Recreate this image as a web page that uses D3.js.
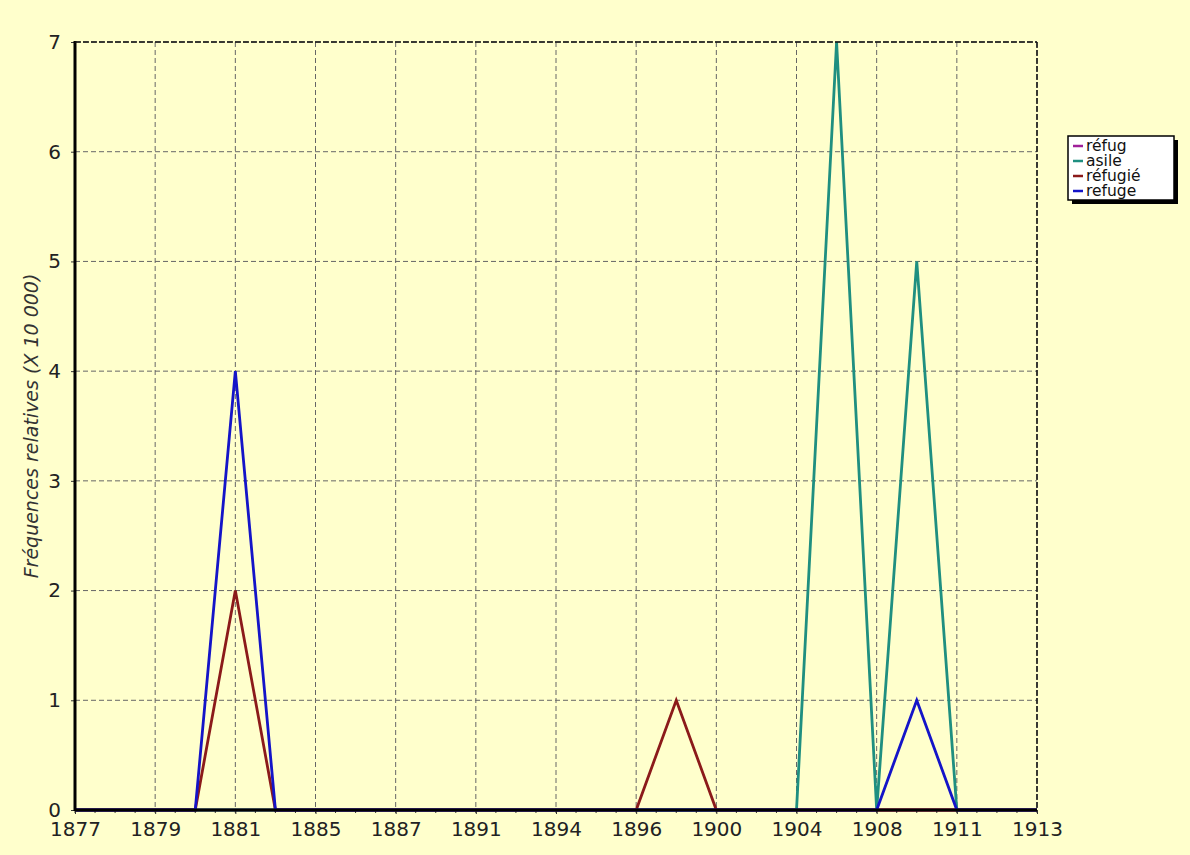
<!DOCTYPE html>
<html>
<head>
<meta charset="utf-8">
<script src="https://cdn.jsdelivr.net/npm/d3@7"></script>
<style>
  body { margin: 0; background: #ffffcc; }
  svg { display: block; font-family: "DejaVu Sans", sans-serif; }
</style>
</head>
<body>
<script>
// years on the x axis (only every other one gets a label)
var years = ["1877", "1878", "1879", "1880", "1881", "1883", "1885", "1886", "1887", "1889",
             "1891", "1893", "1894", "1895", "1896", "1898", "1900", "1902", "1904", "1906",
             "1908", "1910", "1911", "1912", "1913"];
var seriesNames = ["réfug", "asile", "réfugié", "refuge"];
var refugValues   = [0,0,0,0,0,0,0,0,0,0,0,0,0,0,0,0,0,0,0,0,0,0,0,0,0];
var asileValues   = [0,0,0,0,0,0,0,0,0,0,0,0,0,0,0,0,0,0,0,7,0,5,0,0,0];
var refugieValues = [0,0,0,0,2,0,0,0,0,0,0,0,0,0,0,1,0,0,0,0,0,0,0,0,0];
var refugeValues  = [0,0,0,0,4,0,0,0,0,0,0,0,0,0,0,0,0,0,0,0,0,1,0,0,0];
var yTicks = [0, 1, 2, 3, 4, 5, 6, 7];
var yTitle = "Fréquences relatives (X 10 000)";

var colors = ["#a0209a", "#1f8f80", "#8b1a1a", "#1414c8"];
var allSeries = [refugValues, asileValues, refugieValues, refugeValues];

var w = 1190, h = 855,
    pLeft = 75, pRight = 1037, pTop = 42, pBottom = 810;

var svg = d3.select("body").append("svg")
  .attr("width", w)
  .attr("height", h);

svg.append("rect").attr("width", w).attr("height", h).attr("fill", "#ffffcc");

var x = d3.scalePoint().domain(years).range([pLeft, pRight]);
var y = d3.scaleLinear().domain([0, 7]).range([pBottom, pTop]);

// dashed grid
var grid = svg.append("g").attr("class", "grid");
grid.selectAll("line.gx")
  .data(years.filter(function(d, i) { return i % 2 == 0; }))
  .enter().append("line")
    .attr("x1", function(d) { return x(d); })
    .attr("x2", function(d) { return x(d); })
    .attr("y1", pTop).attr("y2", pBottom)
    .attr("stroke", "#666")
    .attr("stroke-width", 1)
    .attr("stroke-dasharray", "5,3");
grid.selectAll("line.gy")
  .data(yTicks.filter(function(d) { return d > 0; }))
  .enter().append("line")
    .attr("x1", pLeft).attr("x2", pRight)
    .attr("y1", function(d) { return y(d); })
    .attr("y2", function(d) { return y(d); })
    .attr("stroke", "#666")
    .attr("stroke-width", 1)
    .attr("stroke-dasharray", "5,3");

// series lines, drawn in legend order
var line = d3.line()
  .x(function(d, i) { return x(years[i]); })
  .y(function(d) { return y(d); });

svg.selectAll("path.serie")
  .data(allSeries)
  .enter().append("path")
    .attr("class", "serie")
    .attr("d", line)
    .attr("fill", "none")
    .attr("stroke", function(d, i) { return colors[i]; })
    .attr("stroke-width", 2.8)
    .attr("stroke-linejoin", "miter");

// x axis: labels every other year, small ticks every half step
var xAxis = d3.axisBottom(x)
  .tickValues(years.filter(function(d, i) { return i % 2 == 0; }))
  .tickSize(4)
  .tickPadding(8);
var gx = svg.append("g")
  .attr("transform", "translate(0," + pBottom + ")")
  .call(xAxis);
gx.select(".domain").remove();
gx.selectAll(".tick line").attr("stroke", "#333");
gx.selectAll("text").attr("font-size", 20).attr("fill", "#222")
  .attr("font-family", "DejaVu Sans, sans-serif");

var step = x.step();
var minor = d3.range(0, years.length - 0.5, 0.5);
svg.append("g").selectAll("line")
  .data(minor)
  .enter().append("line")
    .attr("x1", function(d) { return pLeft + d * step; })
    .attr("x2", function(d) { return pLeft + d * step; })
    .attr("y1", pBottom).attr("y2", pBottom + 3)
    .attr("stroke", "#333");

// y axis
var yAxis = d3.axisLeft(y).tickValues(yTicks).tickFormat(d3.format("d")).tickSize(4).tickPadding(10);
var gy = svg.append("g")
  .attr("transform", "translate(" + pLeft + ",0)")
  .call(yAxis);
gy.select(".domain").remove();
gy.selectAll(".tick line").attr("stroke", "#333");
gy.selectAll("text").attr("font-size", 20).attr("fill", "#222")
  .attr("font-family", "DejaVu Sans, sans-serif");

// frame: solid left and bottom, dashed top and right
svg.append("line").attr("x1", pLeft).attr("x2", pLeft).attr("y1", pTop - 1).attr("y2", pBottom + 1)
  .attr("stroke", "#000").attr("stroke-width", 3);
svg.append("line").attr("x1", pLeft).attr("x2", pRight).attr("y1", pBottom).attr("y2", pBottom)
  .attr("stroke", "#000").attr("stroke-width", 3);
svg.append("line").attr("x1", pLeft).attr("x2", pRight).attr("y1", pTop).attr("y2", pTop)
  .attr("stroke", "#111").attr("stroke-width", 1.5).attr("stroke-dasharray", "6,2");
svg.append("line").attr("x1", pRight).attr("x2", pRight).attr("y1", pTop).attr("y2", pBottom)
  .attr("stroke", "#111").attr("stroke-width", 1.5).attr("stroke-dasharray", "6,2");

// y title
svg.append("text")
  .attr("transform", "translate(31," + ((pTop + pBottom) / 2) + ") rotate(-90)")
  .attr("text-anchor", "middle")
  .attr("dy", "0.35em")
  .attr("font-size", 19)
  .attr("font-style", "italic")
  .attr("fill", "#333")
  .text(yTitle);

// legend with shadow
var lx = 1068, ly = 136, lw = 106, lh = 64, rowH = 15;
svg.append("rect").attr("x", lx + 4).attr("y", ly + 4).attr("width", lw).attr("height", lh)
  .attr("fill", "#000");
svg.append("rect").attr("x", lx).attr("y", ly).attr("width", lw).attr("height", lh)
  .attr("fill", "#fff").attr("stroke", "#000").attr("stroke-width", 1.5);

var items = svg.append("g").selectAll("g")
  .data(seriesNames)
  .enter().append("g")
    .attr("transform", function(d, i) { return "translate(" + (lx + 5) + "," + (ly + 10 + i * rowH) + ")"; });
items.append("line")
  .attr("x1", 0).attr("x2", 10)
  .attr("stroke", function(d, i) { return colors[i]; })
  .attr("stroke-width", 2.5);
items.append("text")
  .attr("x", 13).attr("dy", "0.35em")
  .attr("font-size", 15.5)
  .attr("fill", "#111")
  .text(function(d) { return d; });
</script>
</body>
</html>
